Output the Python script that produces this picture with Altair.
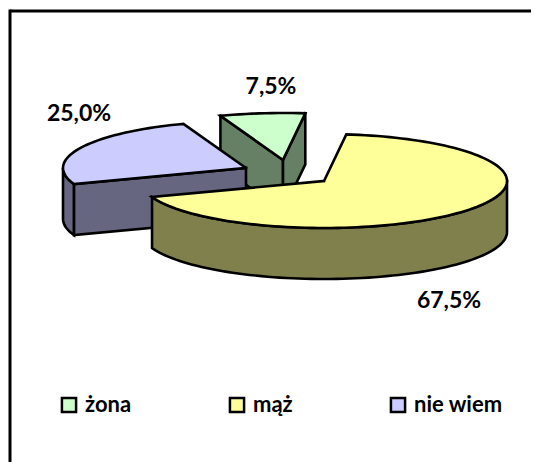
import math
import altair as alt
import pandas as pd

# --- chart values ---
categories = ["żona", "mąż", "nie wiem"]
shares = [7.5, 67.5, 25.0]
value_labels = ["7,5%", "67,5%", "25,0%"]
top_colors = ["#CCFFCC", "#FFFF99", "#CCCCFF"]
wall_colors = ["#668066", "#80804D", "#666680"]

# --- layout of the tilted, exploded pie (pixels on the page) ---
W, H = 523, 454
RX, RY, DEPTH = 183, 47, 51
START = -110.0            # ellipse parameter at which the first slice starts (degrees)
apex = {"żona": (283, 160), "mąż": (324, 181), "nie wiem": (246, 168)}
label_pos = {"żona": (271, 87), "mąż": (449, 301), "nie wiem": (79, 114)}
FONT = "Lato"


def pt(cat, deg, drop=0):
    cx, cy = apex[cat]
    return (cx + RX * math.cos(math.radians(deg)), cy + RY * math.sin(math.radians(deg)) + drop)


def arc(cat, a0, a1, drop=0):
    n = max(2, int(abs(a1 - a0) / 2))
    return [pt(cat, a0 + (a1 - a0) * i / n, drop) for i in range(n + 1)]


x_scale = alt.Scale(domain=[8, 8 + W], range=[0, W], nice=False, zero=False)
y_scale = alt.Scale(domain=[8, 8 + H], range=[0, H], nice=False, zero=False)
X = alt.X("x:Q", scale=x_scale, axis=None)
Y = alt.Y("y:Q", scale=y_scale, axis=None)
color_scale = alt.Scale(domain=categories, range=top_colors)
legend = alt.Legend(
    title=None, orient="none", legendX=50, legendY=386, direction="horizontal",
    columns=3, gridAlign="none", columnPadding=92, symbolType="square", symbolSize=200,
    symbolStrokeColor="black", symbolStrokeWidth=2.5, labelFont=FONT, labelFontSize=22,
    labelFontWeight="bold", labelColor="black", labelOffset=5, padding=0,
)


def poly(points, fill=None, cat=None):
    closed = list(points) + [points[0]]
    df = pd.DataFrame({"x": [p[0] for p in closed], "y": [p[1] for p in closed],
                       "i": range(len(closed))})
    if cat is None:
        return alt.Chart(df).mark_line(fill=fill, stroke="black", strokeWidth=2.6,
                                       strokeJoin="miter", strokeCap="square").encode(
            x=X, y=Y, order="i:Q")
    df["slice"] = cat
    return alt.Chart(df).mark_line(stroke="black", strokeWidth=2.6, strokeJoin="miter",
                                   strokeCap="square").encode(
        x=X, y=Y, order="i:Q",
        fill=alt.Fill("slice:N", scale=color_scale, legend=legend))


# slice angles follow from the shares
angles = {}
a = START
for c, s in zip(categories, shares):
    angles[c] = (a, a + s * 3.6)
    a += s * 3.6

layers = []

# green slice: both cut walls visible
c = "żona"
a0, a1 = angles[c]
ax, ay = apex[c]
layers.append(poly([pt(c, a0), (ax, ay), (ax, ay + DEPTH), pt(c, a0, DEPTH)], wall_colors[0]))
layers.append(poly([pt(c, a1), (ax, ay), (ax, ay + DEPTH), pt(c, a1, DEPTH)], wall_colors[0]))
layers.append(poly([(ax, ay)] + arc(c, a0, a1), cat=c))

# purple slice: front cut wall and the left outer wall
c = "nie wiem"
a0, a1 = angles[c]
ax, ay = apex[c]
layers.append(poly(arc(c, a0, 180) + arc(c, 180, a0, DEPTH), wall_colors[2]))
layers.append(poly([pt(c, a0), (ax, ay), (ax, ay + DEPTH), pt(c, a0, DEPTH)], wall_colors[2]))
layers.append(poly([(ax, ay)] + arc(c, a0, a1), cat=c))

# yellow slice: outer wall along the front
c = "mąż"
a0, a1 = angles[c]
ax, ay = apex[c]
layers.append(poly(arc(c, 0, a1) + arc(c, a1, 0, DEPTH), wall_colors[1]))
layers.append(poly([(ax, ay)] + arc(c, a0, a1), cat=c))

# data labels
labels = pd.DataFrame({
    "x": [label_pos[c][0] for c in categories],
    "y": [label_pos[c][1] for c in categories],
    "t": value_labels,
})
layers.append(alt.Chart(labels).mark_text(font=FONT, fontSize=23, fontWeight="bold",
                                          color="black", align="center", baseline="middle").encode(
    x=X, y=Y, text="t:N"))

# frame: only the top and left edges show
frame_top = pd.DataFrame({"x": [10], "x2": [8 + W], "y": [11]})
frame_left = pd.DataFrame({"x": [10], "y": [9.5], "y2": [8 + H]})
layers.append(alt.Chart(frame_top).mark_rule(color="black", strokeWidth=3).encode(x=X, x2="x2:Q", y=Y))
layers.append(alt.Chart(frame_left).mark_rule(color="black", strokeWidth=3).encode(x=X, y=Y, y2="y2:Q"))

chart = alt.layer(*layers).resolve_scale(fill="shared").properties(
    width=W, height=H, padding=0, autosize=alt.AutoSizeParams(type="none"),
    background="white",
).configure_view(stroke=None)

chart.save("out.html", embed_options={"renderer": "svg", "actions": False})
